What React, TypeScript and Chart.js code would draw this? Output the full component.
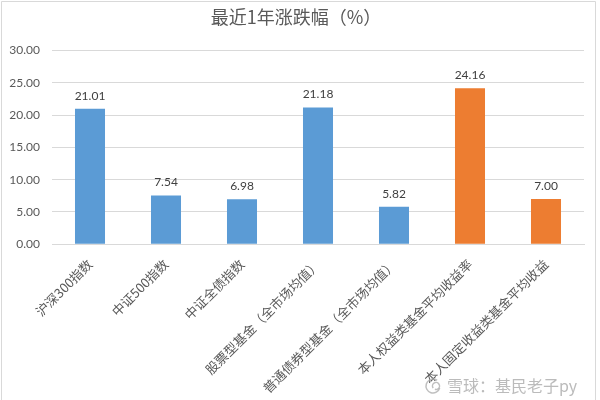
import React, { useEffect, useRef } from "react";
import { Chart, registerables } from "chart.js";

Chart.register(...registerables);

const titleText = "最近1年涨跌幅（%）";
const categories = [
  "沪深300指数",
  "中证500指数",
  "中证全债指数",
  "股票型基金（全市场均值）",
  "普通债券型基金（全市场均值）",
  "本人权益类基金平均收益率",
  "本人固定收益类基金平均收益",
];
const values = [21.01, 7.54, 6.98, 21.18, 5.82, 24.16, 7.0];
const barColors = ["#5B9BD5", "#5B9BD5", "#5B9BD5", "#5B9BD5", "#5B9BD5", "#ED7D31", "#ED7D31"];
const yMin = 0;
const yMax = 30;
const yStep = 5;
const watermark = "雪球：基民老子py";

const numFont = "Lato, 'Liberation Sans', sans-serif";
const cjkFont = "'Noto Sans CJK SC', sans-serif";

const decorPlugin = {
  id: "decor",
  beforeDraw(chart: any) {
    const { ctx, width, height } = chart;
    ctx.save();
    ctx.fillStyle = "#ffffff";
    ctx.fillRect(0, 0, width, height);
    ctx.restore();
  },
  afterDatasetsDraw(chart: any) {
    const { ctx } = chart;
    const meta = chart.getDatasetMeta(0);
    ctx.save();
    ctx.font = `12px ${numFont}`;
    ctx.fillStyle = "#404040";
    ctx.textAlign = "center";
    ctx.textBaseline = "bottom";
    meta.data.forEach((bar: any, i: number) => {
      ctx.fillText(values[i].toFixed(2), bar.x, bar.y - 7);
    });
    ctx.restore();
  },
  afterDraw(chart: any) {
    const { ctx, height } = chart;
    ctx.save();
    // chart frame
    ctx.strokeStyle = "#d9d9d9";
    ctx.lineWidth = 1;
    ctx.beginPath();
    ctx.moveTo(1.5, height);
    ctx.lineTo(1.5, 1.5);
    ctx.lineTo(595.5, 1.5);
    ctx.lineTo(595.5, height);
    ctx.stroke();
    // watermark logo
    ctx.strokeStyle = "rgba(175,175,175,0.8)";
    ctx.lineWidth = 1.5;
    ctx.beginPath();
    ctx.arc(433, 386, 7, 0.3, Math.PI * 1.7);
    ctx.stroke();
    ctx.beginPath();
    ctx.arc(436, 386, 3.5, Math.PI * 0.8, Math.PI * 2.6);
    ctx.stroke();
    // watermark text
    ctx.fillStyle = "rgba(175,175,175,0.85)";
    ctx.font = `16px ${cjkFont}`;
    ctx.textAlign = "left";
    ctx.textBaseline = "middle";
    ctx.fillText(watermark, 447, 386);
    ctx.restore();
  },
};

export default function App() {
  const canvasRef = useRef<HTMLCanvasElement | null>(null);

  useEffect(() => {
    document.body.style.margin = "0";
    const canvas = canvasRef.current;
    if (!canvas) return;
    const chart = new Chart(canvas, {
      type: "bar",
      data: {
        labels: categories,
        datasets: [
          {
            data: values,
            backgroundColor: barColors,
            borderWidth: 0,
            categoryPercentage: 1,
            barPercentage: 0.395,
          },
        ],
      },
      options: {
        animation: false,
        responsive: false,
        devicePixelRatio: 1,
        layout: { padding: { left: 8, right: 16, top: 4, bottom: 0 } },
        plugins: {
          legend: { display: false },
          tooltip: { enabled: false },
          title: {
            display: true,
            text: titleText,
            color: "#595959",
            font: { family: cjkFont, size: 18, weight: "normal" },
            padding: { top: 2, bottom: 23 },
          },
        },
        scales: {
          x: {
            grid: { display: false },
            border: { display: true, color: "#d9d9d9", width: 1 },
            afterFit: (scale: any) => {
              scale.paddingLeft = 0;
              scale.paddingRight = 0;
            },
            ticks: {
              autoSkip: false,
              maxRotation: 45,
              minRotation: 45,
              color: "#595959",
              padding: 4,
              font: { family: cjkFont, size: 13 },
            },
          },
          y: {
            min: yMin,
            max: yMax,
            border: { display: false },
            grid: { color: "#d9d9d9", drawTicks: false },
            afterFit: (scale: any) => {
              scale.width = 44;
            },
            ticks: {
              stepSize: yStep,
              padding: 12,
              color: "#595959",
              font: { family: numFont, size: 12 },
              callback: (v: any) => Number(v).toFixed(2),
            },
          },
        },
      },
      plugins: [decorPlugin],
    });
    return () => chart.destroy();
  }, []);

  return (
    <div style={{ width: 600, height: 400 }}>
      <canvas ref={canvasRef} width={600} height={400} style={{ display: "block" }} />
    </div>
  );
}
